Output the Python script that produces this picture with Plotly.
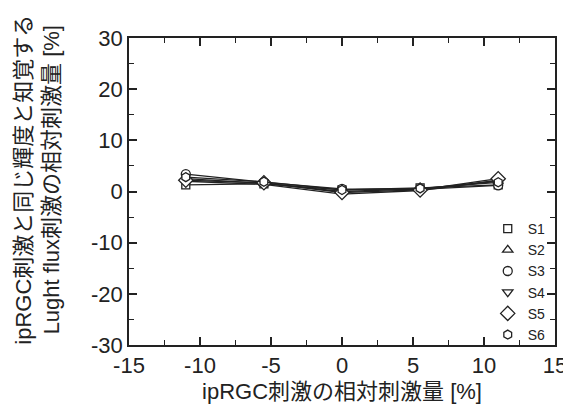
import plotly.graph_objects as go

x_vals = [-11, -5.5, 0, 5.5, 11]
series_names = ["S1", "S2", "S3", "S4", "S5", "S6"]
S1 = [1.3, 1.5, 0.3, 0.7, 1.3]
S2 = [2.5, 1.6, 0.0, 0.5, 2.0]
S3 = [3.4, 1.8, 0.5, 0.4, 1.2]
S4 = [2.0, 1.4, -0.5, 0.2, 2.2]
S5 = [2.2, 1.7, -0.2, 0.3, 2.5]
S6 = [2.8, 1.9, 0.3, 0.6, 1.8]
series_values = [S1, S2, S3, S4, S5, S6]
symbols = ["square", "triangle-up", "circle", "triangle-down", "diamond", "hexagon"]
sizes = [8, 9, 9, 9, 11, 9]

x_ticks = [-15, -10, -5, 0, 5, 10, 15]
y_ticks = [-30, -20, -10, 0, 10, 20, 30]
x_ticktext = [str(v) for v in x_ticks]
y_ticktext = [str(v) for v in y_ticks]

x_title = "ipRGC刺激の相対刺激量 [%]"
y_title = "ipRGC刺激と同じ輝度と知覚する<br>Lught flux刺激の相対刺激量 [%]"

font_fam = "Liberation Sans, Arial, Noto Sans CJK JP, sans-serif"
ink = "#222222"

fig = go.Figure()
for name, vals, sym, sz in zip(series_names, series_values, symbols, sizes):
    fig.add_trace(go.Scatter(
        x=x_vals, y=vals, name=name, mode="lines+markers", showlegend=False,
        line=dict(color=ink, width=1.3),
        marker=dict(symbol=sym, size=sz, color="white", line=dict(color=ink, width=1.3)),
    ))
# legend entries (markers only)
for name, sym, sz in zip(series_names, symbols, sizes):
    fig.add_trace(go.Scatter(
        x=[None], y=[None], name=name, mode="markers", showlegend=True,
        marker=dict(symbol=sym, size=sz, color="white", line=dict(color=ink, width=1.3)),
    ))

axis_common = dict(
    showgrid=False, zeroline=False, showline=True, linecolor=ink,
    linewidth=1.5, mirror="ticks", ticks="inside", ticklen=8, tickwidth=1.5,
    tickcolor=ink, tickfont=dict(size=22, color=ink, family=font_fam),
)

fig.update_xaxes(range=[-15, 15], tickvals=x_ticks, ticktext=x_ticktext,
                 minor=dict(ticks="inside", ticklen=5, dtick=2.5, tickcolor=ink, tickwidth=1.2),
                 title=dict(text=x_title, font=dict(size=22, color=ink, family=font_fam), standoff=6),
                 **axis_common)
fig.update_yaxes(range=[-30, 30], tickvals=y_ticks, ticktext=y_ticktext,
                 minor=dict(ticks="inside", ticklen=5, dtick=5, tickcolor=ink, tickwidth=1.2),
                 **axis_common)

fig.add_annotation(
    text=y_title, xref="paper", yref="paper", x=-(121 - 28) / 434, y=(337 - 172) / 307,
    xanchor="center", yanchor="middle", textangle=-90, showarrow=False,
    font=dict(size=22, color=ink, family=font_fam), align="center",
)

fig.update_layout(
    width=571, height=410,
    margin=dict(l=121, r=16, t=30, b=73),
    plot_bgcolor="white", paper_bgcolor="white",
    showlegend=True,
    legend=dict(x=0.99, y=0.43, xanchor="right", yanchor="top",
                bgcolor="rgba(0,0,0,0)", font=dict(size=14, color=ink, family=font_fam),
                itemwidth=30, tracegroupgap=0),
    font=dict(family=font_fam),
)

fig.write_html("out.html")
